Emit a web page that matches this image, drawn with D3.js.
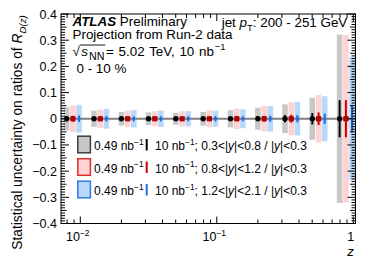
<!DOCTYPE html>
<html><head><meta charset="utf-8">
<script src="https://cdn.jsdelivr.net/npm/d3@7"></script>
<style>
html,body{margin:0;padding:0;background:#fff;}
svg{display:block;font-family:"Liberation Sans",Arial,Helvetica,sans-serif;}
</style></head>
<body><svg id="c" width="374" height="268"></svg>
<script>
// ---- data ----
const zCenters = [0.00794, 0.0126, 0.0200, 0.0316, 0.0501, 0.0794, 0.126, 0.200, 0.316, 0.501, 0.794];
const seriesNames = ["0.3<|y|<0.8", "0.8<|y|<1.2", "1.2<|y|<2.1"];
const ratioValues = [
  [0,0,0,0,0,0,0,0,0,0,0],
  [0,0,0,0,0,0,0,0,0,0,0],
  [0,0,0,0,0,0,0,0,0,0,0]
];
// statistical uncertainty, 0.49 nb^-1 (boxes)
const unc049 = [
  [0.044, 0.031, 0.026, 0.024, 0.023, 0.026, 0.033, 0.042, 0.055, 0.080, 0.321],
  [0.050, 0.035, 0.031, 0.029, 0.029, 0.032, 0.039, 0.048, 0.063, 0.091, 0.320],
  [0.053, 0.038, 0.033, 0.031, 0.029, 0.031, 0.036, 0.049, 0.064, 0.086, 0.235]
];
// statistical uncertainty, 10 nb^-1 (lines)
const unc10 = [
  [0.010, 0.007, 0.006, 0.005, 0.005, 0.006, 0.007, 0.009, 0.014, 0.022, 0.071],
  [0.011, 0.008, 0.007, 0.006, 0.006, 0.007, 0.009, 0.011, 0.015, 0.024, 0.071],
  [0.012, 0.008, 0.007, 0.007, 0.006, 0.007, 0.008, 0.011, 0.014, 0.020, 0.052]
];
const yTicks = [-0.4,-0.3,-0.2,-0.1,0,0.1,0.2,0.3,0.4];
const yTickLabels = ["\u22120.4","\u22120.3","\u22120.2","\u22120.1","0","0.1","0.2","0.3","0.4"];
const xTicks = [0.01, 0.1, 1];
const xTickBase = ["10","10","1"];
const xTickExp = ["\u22122","\u22121",""];

// ---- style ----
const fillCol = ["#c8c8c8", "#ffd3d3", "#b9d9fb"];
const edgeCol = ["#3c3c3c", "#e02c2c", "#2f78e6"];
const lineCol = ["#000000", "#cc0000", "#1f6fe5"];
const markCol = ["#000000", "#b00000", "#1f6fe5"];
const offs = [0, 6.3, 12.4];
const boxW = 5.6;
const FS = 12;      // legend
const FT = 13.4;    // top labels / titles
const FK = 12.5;    // tick labels

const svg = d3.select("#c");
const L = 61, R = 355.5, T = 14, B = 223.5;
const x = d3.scaleLog().domain([0.00722, 1.038]).range([L, R]);
const y = d3.scaleLinear().domain([-0.4, 0.4]).range([B, T]);

// boxes
for (let s = 0; s < 3; s++) {
  svg.append("g").selectAll("rect").data(zCenters).join("rect")
    .attr("x", (d) => x(d) + offs[s] - boxW/2)
    .attr("width", boxW)
    .attr("y", (d,i) => y(ratioValues[s][i] + unc049[s][i]))
    .attr("height", (d,i) => y(ratioValues[s][i] - unc049[s][i]) - y(ratioValues[s][i] + unc049[s][i]))
    .attr("fill", fillCol[s]);
}
// zero line
svg.append("line").attr("x1", L).attr("x2", R).attr("y1", y(0)).attr("y2", y(0))
  .attr("stroke", "#808080").attr("stroke-width", 2);

// error lines & markers
for (let s = 0; s < 3; s++) {
  const g = svg.append("g");
  g.selectAll("line").data(zCenters).join("line")
    .attr("x1", (d) => x(d) + offs[s]).attr("x2", (d) => x(d) + offs[s])
    .attr("y1", (d,i) => y(ratioValues[s][i] + unc10[s][i]))
    .attr("y2", (d,i) => y(ratioValues[s][i] - unc10[s][i]))
    .attr("stroke", lineCol[s]).attr("stroke-width", 2);
  const m = g.selectAll("path.m").data(zCenters).join("path").attr("class","m")
    .attr("fill", markCol[s])
    .attr("transform", (d,i) => `translate(${x(d)+offs[s]},${y(ratioValues[s][i])})`);
  if (s === 0) m.attr("d", d3.symbol(d3.symbolCircle, 22)());
  else if (s === 1) m.attr("d", "M-2.6,-2.6H2.6V2.6H-2.6Z");
  else m.attr("d", "M0,-3.6L1.5,0L0,3.6L-1.5,0Z");
}

// axes (ROOT style inward ticks on all sides)
const yMinor = d3.range(-40, 41).map(v => v/100).filter(v => Math.abs(v*10 - Math.round(v*10)) > 1e-6);
const yMid = yMinor.filter(v => Math.abs(v*20 - Math.round(v*20)) < 1e-6);
const xMinor = [];
[0.001, 0.01, 0.1].forEach(dec => { for (let k = 2; k <= 9; k++) { const v = dec*k; if (v > 0.00722 && v < 1.038) xMinor.push(v); } });

const gAx = svg.append("g").attr("stroke", "#000").attr("stroke-width", 1);
function tickLines(cls, data, fn) { gAx.selectAll("line."+cls).data(data).join("line").attr("class", cls).each(function(d){ const p = fn(d); d3.select(this).attr("x1",p[0]).attr("y1",p[1]).attr("x2",p[2]).attr("y2",p[3]); }); }
tickLines("yl", yTicks, d => [L, y(d), L+8, y(d)]);
tickLines("yr", yTicks, d => [R, y(d), R-8, y(d)]);
tickLines("ylm", yMinor, d => [L, y(d), L + (yMid.includes(d) ? 5.5 : 4), y(d)]);
tickLines("yrm", yMinor, d => [R, y(d), R - (yMid.includes(d) ? 5.5 : 4), y(d)]);
tickLines("xb", xTicks, d => [x(d), B, x(d), B-7]);
tickLines("xt", xTicks, d => [x(d), T, x(d), T+7]);
tickLines("xbm", xMinor, d => [x(d), B, x(d), B-4]);
tickLines("xtm", xMinor, d => [x(d), T, x(d), T+4]);
svg.append("rect").attr("x", L).attr("y", T).attr("width", R-L).attr("height", B-T)
  .attr("fill", "none").attr("stroke", "#000").attr("stroke-width", 1);

// tick labels
svg.append("g").selectAll("text").data(yTicks).join("text")
  .attr("x", 57).attr("y", d => y(d) + 4.5).attr("text-anchor", "end")
  .attr("font-size", FK).text((d,i) => yTickLabels[i]);
const xl = svg.append("g").selectAll("text").data(xTicks).join("text")
  .attr("x", (d,i) => x(d) - 2.5).attr("y", 241).attr("text-anchor", "middle")
  .attr("font-size", FK);
xl.append("tspan").text((d,i) => xTickBase[i]);
xl.append("tspan").attr("dy", -5.5).attr("font-size", FK*0.68).text((d,i) => xTickExp[i]);

// rich text helper
function rich(x0, y0, parts, opt = {}) {
  const size = opt.size || FS;
  const t = svg.append("text").attr("x", x0).attr("y", y0).attr("font-size", size)
    .attr("text-anchor", opt.anchor || "start");
  if (opt.transform) t.attr("transform", opt.transform);
  let cur = 0;
  parts.forEach(p => {
    const sp = t.append("tspan").text(p.t);
    let target = 0;
    if (p.sub) target = size * 0.3;
    if (p.sup) target = -size * 0.42;
    if (target !== cur) { sp.attr("dy", target - cur); cur = target; }
    if (p.sub || p.sup) sp.attr("font-size", size * (p.scale || 0.7));
    if (p.dx) sp.attr("dx", p.dx);
    if (p.ws) sp.attr("word-spacing", p.ws);
    if (p.i) sp.attr("font-style", "italic");
    if (p.b) sp.attr("font-weight", "bold");
  });
  return t;
}

// axis titles
rich(0, 0, [{t:"Statistical uncertainty on ratios of "},{t:"R",i:1},{t:"D(z)",i:1,sub:1}],
  {size: 13.8, anchor:"middle", transform:"translate(21.5,132.5) rotate(-90)"});
rich(354, 256, [{t:"z",i:1}], {size: FT, anchor:"end"});

// labels
rich(72.5, 26.3, [{t:"ATLAS",b:1,i:1},{t:" Preliminary"}], {size: FT});
rich(72.5, 39.2, [{t:"Projection from Run-2 data"}], {size: FT});
const sq = rich(72.5, 55.5, [{t:"\u221A"},{t:"s",i:1,dx:1.5},{t:"NN",sub:1,scale:0.8,dx:1},{t:"= 5.02 TeV, 10 nb",dx:1.5,ws:1},{t:"\u22121",sup:1,dx:0.8}], {size: FT});
{
  const n = sq.node();
  const xs = n.getStartPositionOfChar(1).x, xe = n.getEndPositionOfChar(3).x;
  svg.append("line").attr("x1", xs - 1.5).attr("x2", xe + 0.8).attr("y1", 45.0).attr("y2", 45.0)
    .attr("stroke", "#000").attr("stroke-width", 0.9);
}
rich(76.5, 72.5, [{t:"0 - 10 %"}], {size: FT});
rich(347.3, 27, [{t:"jet "},{t:"p",i:1},{t:"T",sub:1},{t:": 200 - 251 GeV"}], {size: FT, anchor:"end"});

// legend
const rowY = [144.5, 167, 189.5];
for (let s = 0; s < 3; s++) {
  svg.append("rect").attr("x", 77.8).attr("y", rowY[s] - 8.3).attr("width", 12.6).attr("height", 16.6)
    .attr("fill", fillCol[s]).attr("stroke", edgeCol[s]).attr("stroke-width", 1.5);
  rich(94, rowY[s] + 5.5, [{t:"0.49 nb"},{t:"\u22121",sup:1}]);
  svg.append("line").attr("x1", 146.7).attr("x2", 146.7).attr("y1", rowY[s] - 5.5).attr("y2", rowY[s] + 6)
    .attr("stroke", lineCol[s]).attr("stroke-width", 2);
  const nm = seriesNames[s].split("y");
  rich(155, rowY[s] + 5.5, [{t:"10 nb"},{t:"\u22121",sup:1},{t:"; " + nm[0]},{t:"y",i:1},{t:nm[1] + " / |"},{t:"y",i:1},{t:"|<0.3"}]);
}
</script></body></html>
